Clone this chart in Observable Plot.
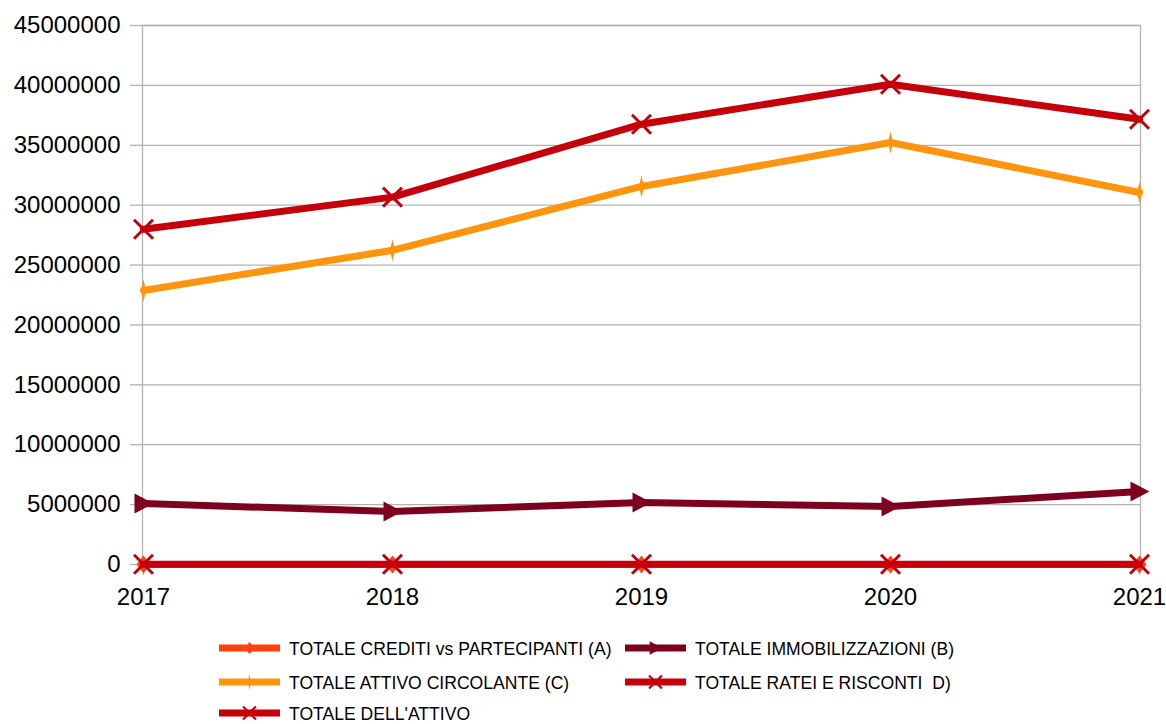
<!DOCTYPE html>
<html>
<head>
<meta charset="utf-8">
<script src="https://cdn.jsdelivr.net/npm/d3@7"></script>
<script src="https://cdn.jsdelivr.net/npm/@observablehq/plot@0.6"></script>
<style>
  html, body { margin: 0; padding: 0; background: #fff; overflow: hidden; }
  #chart svg { display: block; }
  #legend { position: relative; width: 1166px; height: 104px; }
</style>
</head>
<body>
<div id="chart"></div>
<div id="legend"></div>
<script>
// ---- data ----
const years = ["2017", "2018", "2019", "2020", "2021"];
const seriesNames = [
  "TOTALE CREDITI vs PARTECIPANTI (A)",
  "TOTALE IMMOBILIZZAZIONI (B)",
  "TOTALE ATTIVO CIRCOLANTE (C)",
  "TOTALE RATEI E RISCONTI  D)",
  "TOTALE DELL'ATTIVO"
];
const creditiA = [0, 0, 0, 0, 0];
const immobilizzazioniB = [5090000, 4420000, 5180000, 4840000, 6090000];
const circolanteC = [22880000, 26230000, 31560000, 35230000, 31060000];
const rateiD = [20000, 20000, 20000, 20000, 20000];
const totaleAttivo = [27990000, 30670000, 36760000, 40090000, 37170000];
const yTicks = [0, 5000000, 10000000, 15000000, 20000000, 25000000, 30000000, 35000000, 40000000, 45000000];
const colors = ["#ff420e", "#7e0021", "#ff950e", "#c5000b", "#c5000b"];

const allValues = [creditiA, immobilizzazioniB, circolanteC, rateiD, totaleAttivo];
const rows = [];
allValues.forEach((vals, si) => vals.forEach((v, i) => rows.push({series: seriesNames[si], year: years[i], value: v, si})));

// ---- symbols ----
function makeSymbols(k) {
  return {
    diamond: {draw(ctx) { const w = 7 * k, h = 9 * k; ctx.moveTo(0, -h); ctx.lineTo(w, 0); ctx.lineTo(0, h); ctx.lineTo(-w, 0); ctx.closePath(); }},
    triangle: {draw(ctx) { const r = 10 * k; ctx.moveTo(-r + 1, -r); ctx.lineTo(r, 0); ctx.lineTo(-r + 1, r); ctx.closePath(); }},
    spike: {draw(ctx) { const w = 2.6 * k, h = 11 * k; ctx.moveTo(0, -h); ctx.lineTo(w, 0); ctx.lineTo(0, h); ctx.lineTo(-w, 0); ctx.closePath(); }},
    cross: {draw(ctx) { const r = 9.5 * k; ctx.moveTo(-r, -r); ctx.lineTo(r, r); ctx.moveTo(-r, r); ctx.lineTo(r, -r); }}
  };
}
const S = makeSymbols(1);
const markerSpec = [
  {sym: S.diamond, fill: true},
  {sym: S.triangle, fill: true},
  {sym: S.spike, fill: true},
  {sym: S.cross, fill: false},
  {sym: S.cross, fill: false}
];

const marks = [
  Plot.gridY(yTicks, {stroke: "#b3b3b3", strokeOpacity: 1, strokeWidth: 1.3}),
  Plot.frame({stroke: "#b3b3b3", strokeWidth: 1.3}),
  Plot.axisY(yTicks, {tickSize: 12, tickPadding: 10, tickFormat: d3.format("d"), stroke: "#b3b3b3", strokeWidth: 1.3, fill: "#000", fontSize: 24, label: null}),
  Plot.axisX([years[0], years[years.length - 1]], {tickSize: 11, stroke: "#b3b3b3", strokeWidth: 1.3, tickFormat: () => "", label: null}),
  Plot.axisX(years, {tickSize: 0, tickPadding: 23, fill: "#000", fontSize: 24, label: null})
];
seriesNames.forEach((name, si) => {
  const d = rows.filter(r => r.si === si);
  marks.push(Plot.line(d, {x: "year", y: "value", stroke: colors[si], strokeWidth: 7, strokeLinejoin: "round"}));
  const m = markerSpec[si];
  marks.push(Plot.dot(d, {
    x: "year", y: "value", symbol: m.sym, r: 5,
    fill: m.fill ? colors[si] : "none",
    stroke: m.fill ? "none" : colors[si],
    strokeWidth: m.fill ? 0 : 3
  }));
});

const chart = Plot.plot({
  width: 1166,
  height: 620,
  marginLeft: 142,
  marginRight: 26,
  marginTop: 25,
  marginBottom: 56,
  style: {fontFamily: "'Liberation Sans', Arial, sans-serif", background: "#fff"},
  x: {type: "point", domain: years, padding: 0},
  y: {domain: [0, 45000000]},
  marks
});
document.getElementById("chart").appendChild(chart);

// ---- legend ----
const legendItems = [
  {si: 0, x: 219, y: 28},
  {si: 1, x: 625, y: 28},
  {si: 2, x: 219, y: 62},
  {si: 3, x: 625, y: 62},
  {si: 4, x: 219, y: 93}
];
const LS = makeSymbols(0.68);
const legendSyms = [LS.diamond, LS.triangle, LS.spike, LS.cross, LS.cross];
const lsvg = d3.select("#legend").append("svg").attr("width", 1166).attr("height", 104).style("display", "block");
legendItems.forEach(it => {
  const g = lsvg.append("g").attr("transform", `translate(${it.x},${it.y})`);
  g.append("line").attr("x1", 0).attr("x2", 61).attr("y1", 0).attr("y2", 0).attr("stroke", colors[it.si]).attr("stroke-width", 7);
  const fill = markerSpec[it.si].fill;
  g.append("path").attr("transform", "translate(30.5,0)")
    .attr("d", d3.symbol().type(legendSyms[it.si])())
    .attr("fill", fill ? colors[it.si] : "none")
    .attr("stroke", fill ? "none" : colors[it.si])
    .attr("stroke-width", fill ? 0 : 2.2);
  g.append("text").attr("transform", "translate(70,0) scale(0.925,1)").attr("dy", "0.35em")
    .attr("font-family", "'Liberation Sans', Arial, sans-serif")
    .attr("font-size", 19).attr("fill", "#000")
    .style("white-space", "pre")
    .text(seriesNames[it.si]);
});
</script>
</body>
</html>
